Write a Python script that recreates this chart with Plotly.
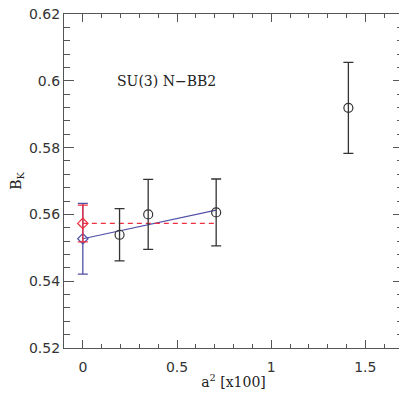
import plotly.graph_objs as go

# lattice points (open circles)
a2 = [0.195, 0.347, 0.708, 1.41]
bk = [0.5539, 0.5600, 0.5606, 0.5919]
bk_err = [0.0078, 0.0105, 0.0100, 0.0136]

# continuum extrapolations at a^2 = 0
lin_x = [0.0]
lin_y = [0.5527]
lin_err = [0.0106]
const_x = [0.0]
const_y = [0.5573]
const_err = [0.0055]

# fit lines
fit_lin_x = [0.0, 0.708]
fit_lin_y = [0.5527, 0.5613]
fit_const_x = [0.0, 0.708]
fit_const_y = [0.5573, 0.5573]

x_ticks = [0, 0.5, 1, 1.5]
x_ticktext = ['0', '0.5', '1', '1.5']
y_ticks = [0.52, 0.54, 0.56, 0.58, 0.6, 0.62]
y_ticktext = ['0.52', '0.54', '0.56', '0.58', '0.6', '0.62']

BLUE = '#5050a8'
RED = '#f03040'
DARK = '#333333'
AXIS = '#555555'

fig = go.Figure()

fig.add_trace(go.Scatter(
    x=fit_lin_x, y=fit_lin_y, mode='lines',
    line=dict(color=BLUE, width=1.2), showlegend=False
))
fig.add_trace(go.Scatter(
    x=fit_const_x, y=fit_const_y, mode='lines',
    line=dict(color=RED, width=1.3, dash='5px,4px'), showlegend=False
))
fig.add_trace(go.Scatter(
    x=lin_x, y=lin_y, mode='markers',
    marker=dict(symbol='diamond-open', size=8, color=BLUE, line=dict(width=1.2)),
    error_y=dict(type='data', array=lin_err, color=BLUE, thickness=1.3, width=5),
    showlegend=False
))
fig.add_trace(go.Scatter(
    x=const_x, y=const_y, mode='markers',
    marker=dict(symbol='diamond-open', size=8, color=RED, line=dict(width=1.2)),
    error_y=dict(type='data', array=const_err, color=RED, thickness=1.3, width=5),
    showlegend=False
))
fig.add_trace(go.Scatter(
    x=a2, y=bk, mode='markers',
    marker=dict(symbol='circle-open', size=9, color=DARK, line=dict(width=1.2)),
    error_y=dict(type='data', array=bk_err, color=DARK, thickness=1.3, width=5),
    showlegend=False
))

fig.add_annotation(
    x=0.17, y=0.5998, xref='x', yref='y', xanchor='left', yanchor='middle',
    text='SU(3) N\u2212BB2', showarrow=False,
    font=dict(family='DejaVu Serif', size=14, color='#222222')
)

axis_common = dict(
    showline=True, linecolor=AXIS, linewidth=1.2, mirror='allticks',
    ticks='inside', tickcolor=AXIS, showgrid=False, zeroline=False,
    automargin=False, ticklabeloverflow='allow',
    tickfont=dict(family='DejaVu Sans', size=14, color='#333333'),
)

# the page body adds an 8px offset, so margins are set to land the frame
# at the reference position
fig.update_layout(
    width=407, height=395,
    margin=dict(l=56, r=12, t=6, b=55),
    plot_bgcolor='white', paper_bgcolor='white',
    xaxis=dict(
        range=[-0.1, 1.7], tickvals=x_ticks, ticktext=x_ticktext,
        ticklen=8, tickwidth=1.1, ticklabelstandoff=6,
        minor=dict(dtick=0.1, ticklen=4, ticks='inside', tickcolor=AXIS),
        title=dict(text='a<sup>2</sup> [x100]', standoff=3,
                   font=dict(family='DejaVu Serif', size=14, color='#222222')),
        **axis_common
    ),
    yaxis=dict(
        range=[0.52, 0.62], tickvals=y_ticks, ticktext=y_ticktext,
        ticklen=10, tickwidth=1.1,
        minor=dict(dtick=0.004, ticklen=6, ticks='inside', tickcolor=AXIS),
        title=dict(text='B<sub>K</sub>', standoff=20,
                   font=dict(family='DejaVu Serif', size=14, color='#222222')),
        **axis_common
    ),
)

fig.write_html("out.html")
